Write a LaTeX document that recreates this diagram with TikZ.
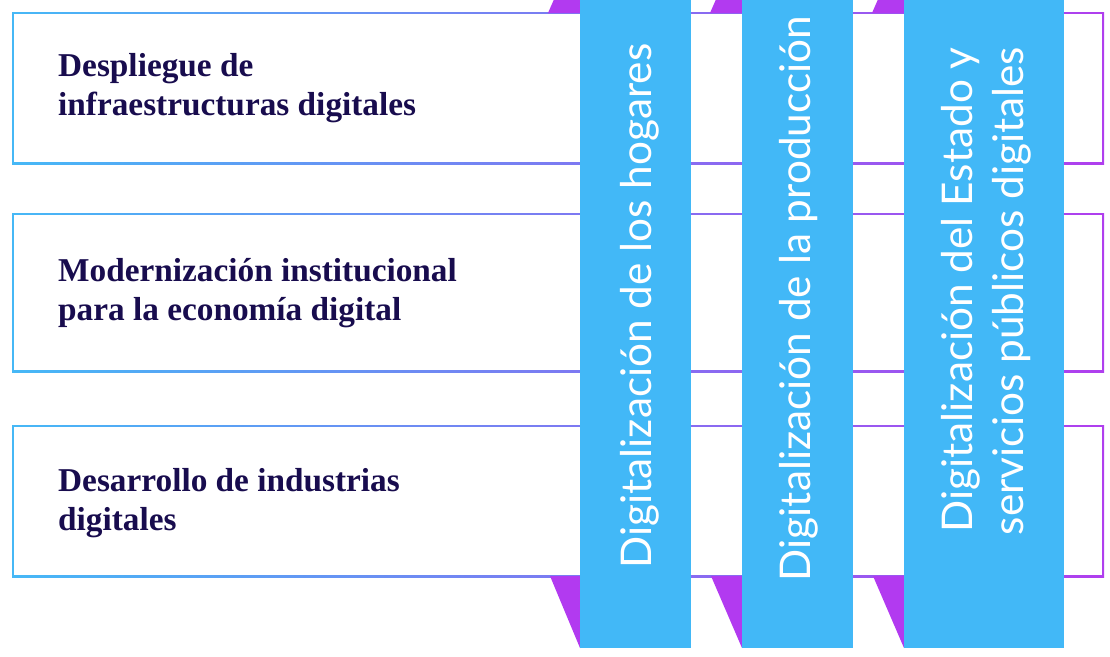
\documentclass[tikz,border=0pt]{standalone}
\usepackage{fontspec}
\setmainfont{Liberation Serif}
\newfontfamily\colfont{Lato}
\definecolor{colblue}{RGB}{66,184,247}
\definecolor{ribpurple}{RGB}{178,58,240}
\definecolor{lineblue}{RGB}{70,184,246}
\definecolor{linepurple}{RGB}{176,62,238}
\definecolor{navy}{RGB}{24,12,78}
\tikzset{
  lbl/.style={anchor=west, inner sep=0pt, align=left, text=navy,
    font=\fontsize{33.3}{38.5}\selectfont\bfseries},
  colbox/.style={fill=colblue, draw=none, minimum width=111pt, minimum height=660pt, inner sep=0pt, anchor=north},
  coltext/.style={rotate=90, anchor=base, inner sep=0pt, text=white,
    font=\colfont\fontsize{42.3}{50}\selectfont},
  ribbon/.style={fill=ribpurple, draw=none},
  frameshade/.style={left color=lineblue, right color=linepurple}
}
\begin{document}
\begin{tikzpicture}[x=1pt,y=-1pt]
\useasboundingbox (0,0) rectangle (1110,656);
\clip (0,0) rectangle (1110,656);
% frames
\shade[frameshade] (12,12) rectangle (1104,164);
\fill[white] (14,14) rectangle (1102,162);
\shade[frameshade] (12,213) rectangle (1104,372);
\fill[white] (14,215) rectangle (1102,370);
\shade[frameshade] (12,425) rectangle (1104,577);
\fill[white] (14,427) rectangle (1102,575);
% left labels
\node[lbl] (t1) at (58,88) {Despliegue de\\infraestructuras digitales};
\node[lbl] (t2) at (58,293) {Modernización institucional\\para la economía digital};
\node[lbl] (t3) at (58,503) {Desarrollo de industrias\\digitales};
% ribbons
\fill[ribbon] (548,13) -- (580,13) -- (580,-60) -- cycle;
\fill[ribbon] (550,576) -- (580,576) -- (580,648) -- cycle;
\fill[ribbon] (710,13) -- (742,13) -- (742,-60) -- cycle;
\fill[ribbon] (711,576) -- (742,576) -- (742,648) -- cycle;
\fill[ribbon] (872,13) -- (904,13) -- (904,-60) -- cycle;
\fill[ribbon] (873,576) -- (904,576) -- (904,648) -- cycle;
% columns
\node[colbox] (c1) at (635.5,-12) {};
\node[colbox] (c2) at (797.5,-12) {};
\node[colbox, minimum width=160pt] (c3) at (984,-12) {};
% column texts
\node[coltext] (ct1) at (651,306) {Digitalización de los hogares};
\node[coltext] (ct2) at (810,298.5) {Digitalización de la producción};
\node[coltext] (ct3a) at (972,290) {Digitalización del Estado y};
\node[coltext] (ct3b) at (1023,291) {servicios públicos digitales};
\end{tikzpicture}
\end{document}
